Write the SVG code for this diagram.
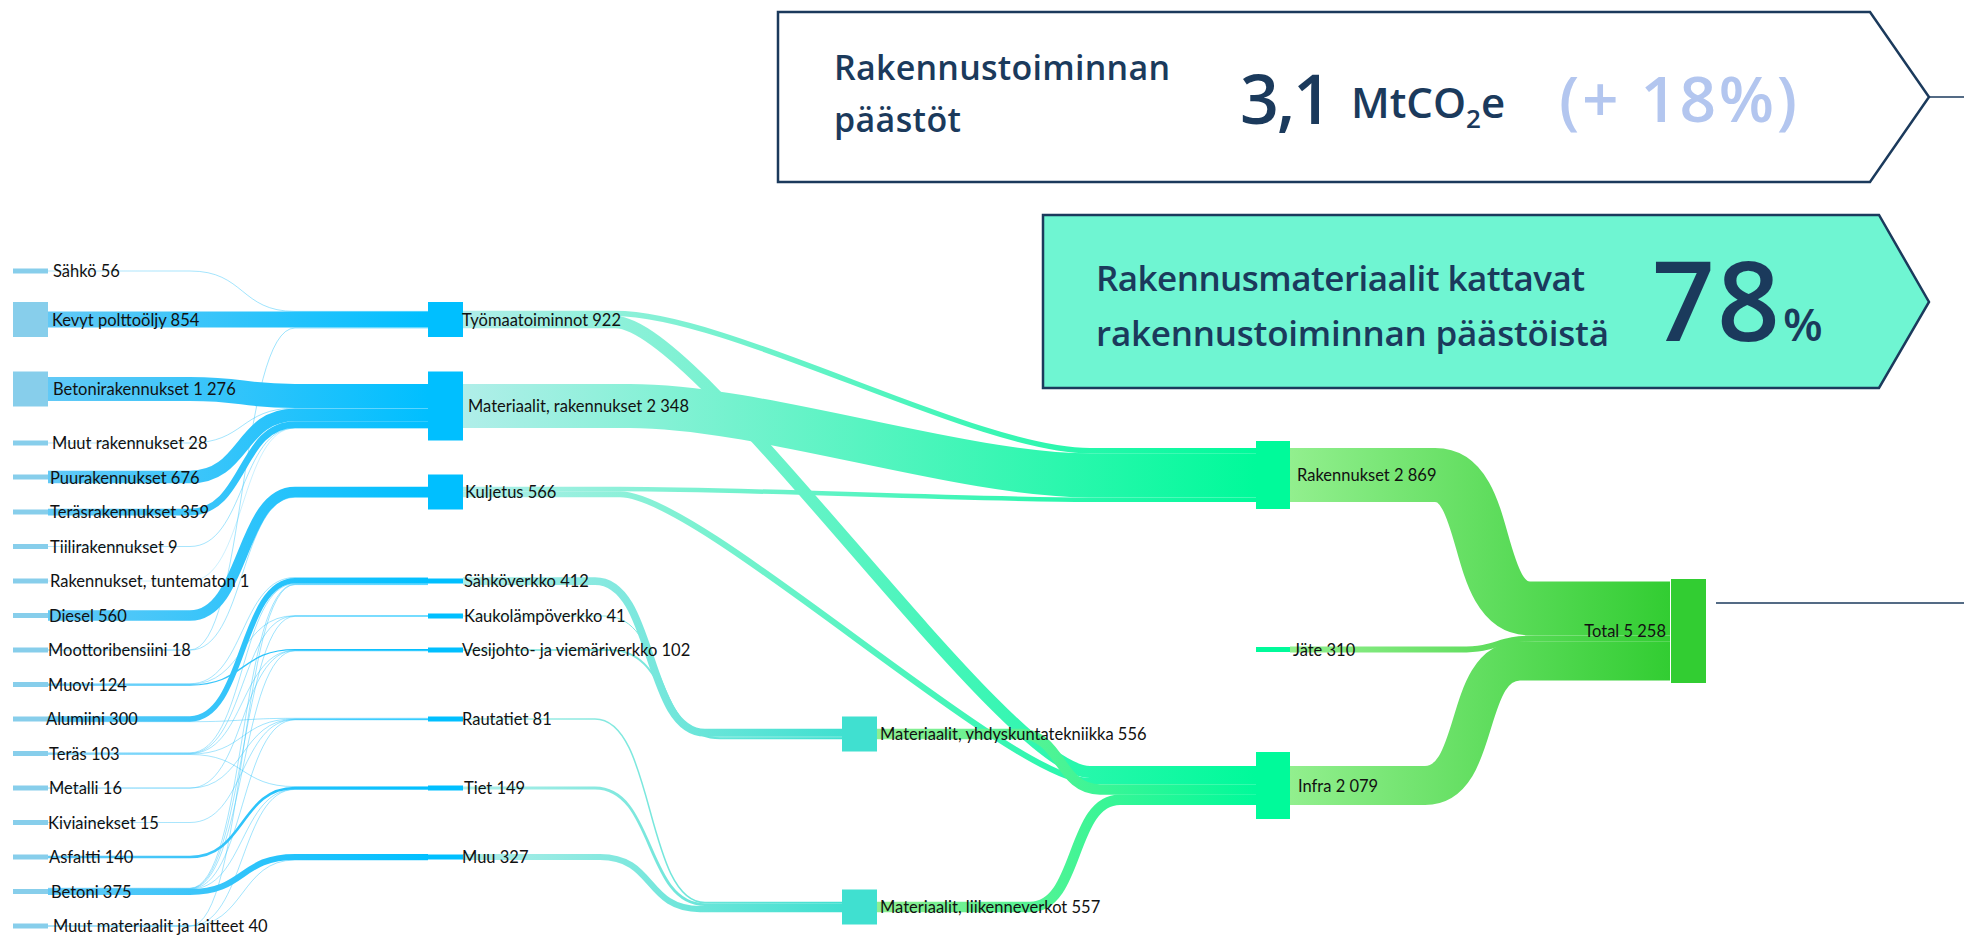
<svg xmlns="http://www.w3.org/2000/svg" width="1964" height="936" viewBox="0 0 1964 936">
<defs>
<linearGradient id="gL" gradientUnits="userSpaceOnUse" x1="48" y1="0" x2="428" y2="0"><stop offset="0" stop-color="#62c9f6"/><stop offset="1" stop-color="#00bfff"/></linearGradient>
<linearGradient id="gM" gradientUnits="userSpaceOnUse" x1="463" y1="0" x2="1256" y2="0"><stop offset="0" stop-color="#b0eee9"/><stop offset="1" stop-color="#00fa9a"/></linearGradient>
<linearGradient id="gM3" gradientUnits="userSpaceOnUse" x1="463" y1="0" x2="842" y2="0"><stop offset="0" stop-color="#b0eee9"/><stop offset="1" stop-color="#40e0d0"/></linearGradient>
<linearGradient id="g34" gradientUnits="userSpaceOnUse" x1="876" y1="0" x2="1256" y2="0"><stop offset="0" stop-color="#90ee90"/><stop offset="1" stop-color="#00fa9a"/></linearGradient>
<linearGradient id="gT" gradientUnits="userSpaceOnUse" x1="1290" y1="0" x2="1670" y2="0"><stop offset="0" stop-color="#92ef8e"/><stop offset="1" stop-color="#32cd32"/></linearGradient>
<style>
.lk path{fill:none}
.l{stroke:url(#gL)}
.m{stroke:url(#gM)}
.m3{stroke:url(#gM3)}
.g34{stroke:url(#g34)}
.gt{stroke:url(#gT)}
.thin{stroke-width:1;stroke-opacity:.45}
.n0{fill:#87ceeb}
.n1{fill:#00bfff}
.n2{fill:#40e0d0}
.n3{fill:#00fa9a}
.n4{fill:#32cd32}
.lb{font-family:Lato,"Liberation Sans",sans-serif;font-size:16.5px;fill:#111}
.hd{font-family:"Open Sans","Liberation Sans",sans-serif;font-weight:600;fill:#1b3a5c}
</style>
</defs>
<rect width="1964" height="936" fill="#fff"/>

<g id="kpi-total">
<polygon points="778,12 1870,12 1929,97 1870,182 778,182" fill="#fff" stroke="#1b3a5c" stroke-width="2.5"/>
<line x1="1929" y1="97" x2="1964" y2="97" stroke="#1b3a5c" stroke-width="1.5"/>
<text class="hd" x="834" y="80" font-size="34" textLength="336">Rakennustoiminnan</text>
<text class="hd" x="834" y="132" font-size="34" textLength="127">päästöt</text>
<text class="hd" x="1240" y="124" font-size="68" font-weight="700" textLength="92">3,1</text>
<text class="hd" x="1351" y="118" font-size="42">MtCO<tspan font-size="26" dy="10">2</tspan><tspan dy="-10">e</tspan></text>
<text class="hd" x="1559" y="122" font-size="64" font-weight="500" style="fill:#b3c6ef" textLength="238">(+ 18%)</text>
</g>

<g id="kpi-materials">
<polygon points="1043,215 1879,215 1929,302 1879,388 1043,388" fill="#6ff5d2" stroke="#1b3a5c" stroke-width="2.5"/>
<text class="hd" x="1096" y="291" font-size="35" textLength="489">Rakennusmateriaalit kattavat</text>
<text class="hd" x="1096" y="346" font-size="35" textLength="513">rakennustoiminnan päästöistä</text>
<text class="hd" x="1652" y="341" font-size="110" font-weight="700" textLength="128">78</text>
<text class="hd" x="1783" y="341" font-size="46" font-weight="700">%</text>
</g>

<line x1="1716" y1="603" x2="1964" y2="603" stroke="#1b3a5c" stroke-width="1.5"/>

<g id="connectors" class="lk">
<path class="l thin" d="M48,271H190C245,271 240,311.4 295,311.4H428"/>
<path class="l" stroke-width="16" d="M48,319.6H428"/>
<path class="l" stroke-width="24" d="M48,389H190C245,389 240,395.9 295,395.9H428"/>
<path class="l thin" d="M48,443H190C245,443 240,408.2 295,408.2H428"/>
<path class="l" stroke-width="12.7" d="M48,477H190C245,477 240,414.8 295,414.8H428"/>
<path class="l" stroke-width="6.75" d="M48,512H190C245,512 240,424.5 295,424.5H428"/>
<path class="l thin" d="M48,546.5H190C245,546.5 240,428 295,428H428"/>
<path class="l thin" style="stroke-opacity:.25" d="M48,581H190C245,581 240,428.1 295,428.1H428"/>
<path class="l" stroke-width="10.5" d="M48,615.5H190C245,615.5 240,491.9 295,491.9H428"/>
<path class="l thin" d="M48,649.9H190C245,649.9 240,328 295,328H428"/>
<path class="l thin" d="M48,650.1H190C245,650.1 240,497.3 295,497.3H428"/>
<path class="l thin" d="M48,683.7H190C245,683.7 240,577.5 295,577.5H428"/>
<path class="l thin" d="M48,684.2H190C245,684.2 240,615.7 295,615.7H428"/>
<path class="l" stroke-width="1.3" d="M48,685H190C245,685 240,649.7 295,649.7H428"/>
<path class="l" stroke-width="5.45" d="M48,718.9H190C245,718.9 240,580.7 295,580.7H428"/>
<path class="l thin" d="M48,721.7H190C245,721.7 240,718.3 295,718.3H428"/>
<path class="l thin" d="M48,752.8H190C245,752.8 240,583.7 295,583.7H428"/>
<path class="l thin" d="M48,753.3H190C245,753.3 240,616 295,616H428"/>
<path class="l thin" d="M48,753.6H190C245,753.6 240,650.4 295,650.4H428"/>
<path class="l thin" d="M48,754.1H190C245,754.1 240,718.9 295,718.9H428"/>
<path class="l thin" d="M48,754.5H190C245,754.5 240,786.6 295,786.6H428"/>
<path class="l thin" d="M48,788H190C245,788 240,650.6 295,650.6H428"/>
<path class="l thin" d="M48,788.1H190C245,788.1 240,719.3 295,719.3H428"/>
<path class="l thin" d="M48,822.5H190C245,822.5 240,719.5 295,719.5H428"/>
<path class="l" stroke-width="2.63" d="M48,857H190C245,857 240,788 295,788H428"/>
<path class="l thin" d="M48,888.2H190C245,888.2 240,584.2 295,584.2H428"/>
<path class="l thin" d="M48,888.5H190C245,888.5 240,616.3 295,616.3H428"/>
<path class="l thin" d="M48,888.7H190C245,888.7 240,650.8 295,650.8H428"/>
<path class="l thin" d="M48,888.9H190C245,888.9 240,719.8 295,719.8H428"/>
<path class="l thin" d="M48,889.1H190C245,889.1 240,789.3 295,789.3H428"/>
<path class="l" stroke-width="6.03" d="M48,892H190C245,892 240,856.9 295,856.9H428"/>
<path class="l thin" d="M48,926H190C245,926 240,584.6 295,584.6H428"/>
<path class="l thin" d="M48,926H190C245,926 240,789.4 295,789.4H428"/>
<path class="l thin" d="M48,926H190C245,926 240,860 295,860H428"/>
<path class="m3" stroke-width="7.75" d="M463,581H595C655,581 645,732.6 705,732.6H842"/>
<path class="m3" stroke-width="1" d="M463,616H605C665,616 655,736.9 715,736.9H842"/>
<path class="m3" stroke-width="1.9" d="M463,650H610C670,650 660,738.3 720,738.3H842"/>
<path class="m3" stroke-width="1.5" d="M463,719H595C655,719 645,902.5 705,902.5H842"/>
<path class="m3" stroke-width="2.8" d="M463,788H595C655,788 645,904.7 705,904.7H842"/>
<path class="m3" stroke-width="6.15" d="M463,857H600C655,857 645,909.1 700,909.1H842"/>
<path class="m" stroke-width="44.1" d="M463,406H630C760,406 960,475.4 1090,475.4H1256"/>
<path class="m" stroke-width="5.26" d="M463,313.5H615C730,313.5 975,450.7 1090,450.7H1256"/>
<path class="m" stroke-width="4.5" d="M463,489H620C750,489 960,499.7 1090,499.7H1256"/>
<path class="m" stroke-width="12.07" d="M463,322.1H615C700,322.1 1005,772 1090,772H1256"/>
<path class="m" stroke-width="6.13" d="M463,494.3H620C700,494.3 1010,781.1 1090,781.1H1256"/>
<path class="g34" stroke-width="10.45" d="M876,734H1020C1062,734 1058,789.4 1100,789.4H1256"/>
<path class="g34" stroke-width="10.47" d="M876,907H1030C1080,907 1070,799.8 1120,799.8H1256"/>
<path class="gt" stroke-width="53.9" d="M1290,475H1435C1492,475 1472,608.5 1530,608.5H1670"/>
<path class="gt" stroke-width="5.83" d="M1290,649.5H1460C1500,649.5 1495,638.4 1535,638.4H1670"/>
<path class="gt" stroke-width="39.1" d="M1290,785.5H1425C1482,785.5 1462,660.9 1520,660.9H1670"/>
</g>

<g id="n-sahko"><rect class="n0" x="13" y="268.5" width="35" height="5"/><text class="lb" x="53" y="277">Sähkö 56</text></g>
<g id="n-kevyt"><rect class="n0" x="13" y="302" width="35" height="35"/><text class="lb" x="52" y="325.5">Kevyt polttoöljy 854</text></g>
<g id="n-betonirak"><rect class="n0" x="13" y="371.5" width="35" height="35"/><text class="lb" x="53" y="395">Betonirakennukset 1 276</text></g>
<g id="n-muutrak"><rect class="n0" x="13" y="440.5" width="35" height="5"/><text class="lb" x="52" y="449">Muut rakennukset 28</text></g>
<g id="n-puurak"><rect class="n0" x="13" y="474.5" width="35" height="5"/><text class="lb" x="50" y="483.5">Puurakennukset 676</text></g>
<g id="n-terasrak"><rect class="n0" x="13" y="509.5" width="35" height="5"/><text class="lb" x="50" y="518">Teräsrakennukset 359</text></g>
<g id="n-tiilirak"><rect class="n0" x="13" y="544" width="35" height="5"/><text class="lb" x="50" y="552.5">Tiilirakennukset 9</text></g>
<g id="n-tuntematon"><rect class="n0" x="13" y="578.5" width="35" height="5"/><text class="lb" x="50" y="587">Rakennukset, tuntematon 1</text></g>
<g id="n-diesel"><rect class="n0" x="13" y="613" width="35" height="5"/><text class="lb" x="49" y="621.5">Diesel 560</text></g>
<g id="n-moottori"><rect class="n0" x="13" y="647.5" width="35" height="5"/><text class="lb" x="48" y="656">Moottoribensiini 18</text></g>
<g id="n-muovi"><rect class="n0" x="13" y="682" width="35" height="5"/><text class="lb" x="48" y="690.5">Muovi 124</text></g>
<g id="n-alumiini"><rect class="n0" x="13" y="716.5" width="35" height="5"/><text class="lb" x="46" y="725">Alumiini 300</text></g>
<g id="n-teras"><rect class="n0" x="13" y="751" width="35" height="5"/><text class="lb" x="49" y="759.5">Teräs 103</text></g>
<g id="n-metalli"><rect class="n0" x="13" y="785.5" width="35" height="5"/><text class="lb" x="49" y="794">Metalli 16</text></g>
<g id="n-kiviainekset"><rect class="n0" x="13" y="820" width="35" height="5"/><text class="lb" x="48" y="828.5">Kiviainekset 15</text></g>
<g id="n-asfaltti"><rect class="n0" x="13" y="854.5" width="35" height="5"/><text class="lb" x="49" y="863">Asfaltti 140</text></g>
<g id="n-betoni"><rect class="n0" x="13" y="889" width="35" height="5"/><text class="lb" x="51" y="897.5">Betoni 375</text></g>
<g id="n-muutmat"><rect class="n0" x="13" y="923.5" width="35" height="5"/><text class="lb" x="53" y="932">Muut materiaalit ja laitteet 40</text></g>

<g id="n-tyomaa"><rect class="n1" x="428" y="302" width="35" height="35"/><text class="lb" x="462" y="325.5">Työmaatoiminnot 922</text></g>
<g id="n-matrak"><rect class="n1" x="428" y="371.5" width="35" height="69"/><text class="lb" x="468" y="412">Materiaalit, rakennukset 2 348</text></g>
<g id="n-kuljetus"><rect class="n1" x="428" y="474.5" width="35" height="35"/><text class="lb" x="465" y="498">Kuljetus 566</text></g>
<g id="n-sahkoverkko"><rect class="n1" x="428" y="578.5" width="35" height="5"/><text class="lb" x="464" y="587">Sähköverkko 412</text></g>
<g id="n-kaukolampo"><rect class="n1" x="428" y="613.5" width="35" height="5"/><text class="lb" x="464" y="622">Kaukolämpöverkko 41</text></g>
<g id="n-vesijohto"><rect class="n1" x="428" y="647.5" width="35" height="5"/><text class="lb" x="462" y="656">Vesijohto- ja viemäriverkko 102</text></g>
<g id="n-rautatiet"><rect class="n1" x="428" y="716.5" width="35" height="5"/><text class="lb" x="462" y="725">Rautatiet 81</text></g>
<g id="n-tiet"><rect class="n1" x="428" y="785.5" width="35" height="5"/><text class="lb" x="464" y="794">Tiet 149</text></g>
<g id="n-muu"><rect class="n1" x="428" y="854.5" width="35" height="5"/><text class="lb" x="462" y="863">Muu 327</text></g>

<g id="n-yhdyskunta"><rect class="n2" x="842" y="716.5" width="35" height="35"/><text class="lb" x="880" y="740">Materiaalit, yhdyskuntatekniikka 556</text></g>
<g id="n-liikenne"><rect class="n2" x="842" y="889.5" width="35" height="35"/><text class="lb" x="880" y="913">Materiaalit, liikenneverkot 557</text></g>

<g id="n-rakennukset"><rect class="n3" x="1256" y="441" width="34" height="68"/><text class="lb" x="1297" y="481">Rakennukset 2 869</text></g>
<g id="n-jate"><rect class="n3" x="1256" y="647" width="34" height="5"/><text class="lb" x="1293" y="655.5">Jäte 310</text></g>
<g id="n-infra"><rect class="n3" x="1256" y="752" width="34" height="67"/><text class="lb" x="1298" y="791.5">Infra 2 079</text></g>

<g id="n-total"><rect class="n4" x="1671" y="579" width="35" height="104"/><text class="lb" x="1666" y="637" text-anchor="end">Total 5 258</text></g>
</svg>
